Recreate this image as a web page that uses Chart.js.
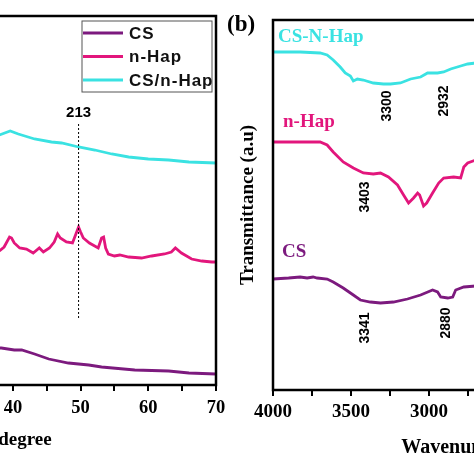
<!DOCTYPE html>
<html>
<head>
<meta charset="utf-8">
<script src="https://cdn.jsdelivr.net/npm/chart.js@4.4.1/dist/chart.umd.min.js"></script>
<style>
  html, body { margin: 0; padding: 0; background: #fff; overflow: hidden; width: 474px; height: 474px; }
  #xrdChart { position: absolute; left: -260px; top: 0; }
  #ftirChart { position: absolute; left: 200px; top: 0; }
</style>
</head>
<body>
<canvas id="xrdChart" width="500" height="474"></canvas>
<canvas id="ftirChart" width="600" height="474"></canvas>
<script>
// (a) XRD, 2theta in degrees, intensity a.u.
const xrdCsX = [38.0, 38.3, 40.2, 41.3, 43.2, 45.3, 48.2, 51.2, 53.1, 58, 63, 66, 70];
const xrdCsY = [37, 37, 35, 35, 31, 26, 22, 20, 18, 15, 14, 12, 11];
const xrdHapX = [38.0, 38.7, 39.5, 39.8, 40.2, 41.0, 42.0, 43.0, 43.9, 44.5, 45.4, 46.1, 46.6, 47.0, 47.9, 48.8, 49.25, 49.7, 50.0, 50.4, 51.3, 52.6, 53.1, 53.4, 53.7, 54.1, 55.0, 55.8, 57.1, 59.0, 60.5, 62.4, 63.4, 64.0, 64.9, 66.4, 67.9, 69.4, 70];
const xrdHapY = [134, 138, 148, 147, 142, 137, 136, 132, 137, 133, 137, 143, 151, 147, 143, 142, 150, 158, 153, 147, 142, 137, 147, 148, 137, 131, 129, 130, 128, 127, 129, 131, 133, 137, 132, 126, 124, 123, 123];
const xrdMixX = [38.0, 39.6, 40.8, 43.2, 45.7, 47.2, 49.7, 52.1, 54.6, 57.1, 60.0, 63, 66, 70];
const xrdMixY = [250, 254, 251, 246, 243, 242, 238, 235, 231, 228, 226, 225, 223, 222];
const xrdNames = ['CS', 'n-Hap', 'CS/n-Hap'];
const xrdPeak = 49.7, xrdPeakText = '213';

// (b) FTIR, wavenumber cm-1, transmittance a.u.
const irMixX = [4000, 3826, 3698, 3653, 3614, 3569, 3537, 3504, 3485, 3459, 3421, 3357, 3292, 3247, 3183, 3118, 3054, 3009, 2945, 2906, 2861, 2797, 2752, 2700];
const irMixY = [338, 338, 337, 335, 330, 323, 317, 314, 309, 311, 310, 307, 306, 306, 307, 311, 313, 317, 317, 318, 321, 324, 326, 327];
const irHapX = [4000, 3826, 3698, 3653, 3614, 3550, 3485, 3421, 3357, 3311, 3260, 3202, 3163, 3131, 3099, 3073, 3060, 3035, 3015, 2977, 2938, 2906, 2842, 2797, 2777, 2752, 2700];
const irHapY = [248, 248, 248, 245, 238, 228, 222, 217, 216, 217, 213, 205, 195, 187, 192, 197, 195, 184, 187, 197, 207, 212, 213, 212, 223, 227, 230];
const irCsX = [4000, 3900, 3826, 3781, 3743, 3717, 3653, 3614, 3550, 3485, 3440, 3376, 3311, 3228, 3138, 3054, 2977, 2945, 2925, 2880, 2848, 2829, 2777, 2700];
const irCsY = [111, 112, 113, 112, 113, 112, 111, 108, 102, 95, 90, 88, 87, 88, 91, 95, 100, 98, 93, 92, 93, 100, 103, 104];
const irNames = ['CS-N-Hap', 'n-Hap', 'CS'];
const irPeaks = ['3300', '2932', '3403', '3341', '2880'];

const purple = '#7c1a7e', magenta = '#e2167c', cyan = '#3ae2e2';
const serif = '"Liberation Serif", "Times New Roman", serif';
const sans = '"Liberation Sans", Arial, sans-serif';

const pts = (xs, ys) => xs.map((v, i) => ({ x: v, y: ys[i] }));

let frame = function (ctx, a) {
    ctx.strokeStyle = '#000';
    ctx.lineWidth = 2.5;
    ctx.strokeRect(a.left, a.top, a.right - a.left, a.bottom - a.top);
};

const xrdDecor = {
    id: 'xrdDecor',
    afterDraw(chart) {
        const { ctx, chartArea: a, scales: { x, y } } = chart;
        ctx.save();
        frame(ctx, a);
        // dotted marker line for the 213 reflection
        const px = x.getPixelForValue(xrdPeak);
        ctx.lineWidth = 1;
        ctx.setLineDash([2, 2]);
        ctx.beginPath();
        ctx.moveTo(px, y.getPixelForValue(67));
        ctx.lineTo(px, y.getPixelForValue(262));
        ctx.stroke();
        ctx.setLineDash([]);
        ctx.fillStyle = '#000';
        ctx.font = 'bold 15px ' + sans;
        ctx.textAlign = 'center';
        ctx.textBaseline = 'middle';
        ctx.fillText(xrdPeakText, px, y.getPixelForValue(272));
        // boxed legend
        const bx = a.right - 134, by = a.top + 5;
        ctx.lineWidth = 1;
        ctx.strokeStyle = '#555';
        ctx.strokeRect(bx, by, 130, 71);
        ctx.textAlign = 'left';
        ctx.font = 'bold 17px ' + sans;
        ctx.letterSpacing = '1px';
        chart.data.datasets.forEach((ds, i) => {
            const ly = by + 12 + i * 23.5;
            ctx.strokeStyle = ds.borderColor;
            ctx.lineWidth = 3;
            ctx.beginPath();
            ctx.moveTo(bx + 1, ly);
            ctx.lineTo(bx + 41, ly);
            ctx.stroke();
            ctx.fillStyle = '#111';
            ctx.fillText(ds.label, bx + 47, ly + 1);
        });
        ctx.restore();
    }
};

const irDecor = {
    id: 'irDecor',
    afterDraw(chart) {
        const { ctx, chartArea: a, scales: { x, y } } = chart;
        ctx.save();
        frame(ctx, a);
        // band positions, written vertically
        const spots = [[3266, 284], [2900, 289], [3408, 193], [3408, 62], [2887, 67]];
        ctx.fillStyle = '#000';
        ctx.font = 'bold 14px ' + sans;
        ctx.textAlign = 'center';
        ctx.textBaseline = 'middle';
        irPeaks.forEach((t, i) => {
            ctx.save();
            ctx.translate(x.getPixelForValue(spots[i][0]), y.getPixelForValue(spots[i][1]));
            ctx.rotate(-Math.PI / 2);
            ctx.fillText(t, 0, 0);
            ctx.restore();
        });
        // curve names
        const tags = [[3968, 353], [3936, 268], [3942, 138]];
        ctx.font = 'bold 19px ' + serif;
        ctx.textAlign = 'left';
        chart.data.datasets.forEach((ds, i) => {
            ctx.fillStyle = ds.borderColor;
            ctx.fillText(ds.label, x.getPixelForValue(tags[i][0]), y.getPixelForValue(tags[i][1]));
        });
        ctx.fillStyle = '#000';
        ctx.font = 'bold 23px ' + serif;
        ctx.fillText('(b)', a.left - 46, 25);
        ctx.restore();
    }
};

let xrdChart = new Chart(document.getElementById('xrdChart'), {
    type: 'line',
    data: {
        datasets: [
            { label: xrdNames[0], data: pts(xrdCsX, xrdCsY), borderColor: purple },
            { label: xrdNames[1], data: pts(xrdHapX, xrdHapY), borderColor: magenta },
            { label: xrdNames[2], data: pts(xrdMixX, xrdMixY), borderColor: cyan }
        ]
    },
    options: {
        responsive: false,
        animation: false,
        layout: { padding: { left: 69.8, right: 24, top: 16, bottom: 0 } },
        elements: { point: { radius: 0 }, line: { borderWidth: 2.8, tension: 0 } },
        plugins: { legend: { display: false }, tooltip: { enabled: false } },
        scales: {
            x: {
                type: 'linear', min: 10, max: 70,
                afterFit: s => { s.height = 89; },
                border: { display: false },
                grid: { drawOnChartArea: false, tickLength: 6, color: '#000', lineWidth: 2 },
                ticks: {
                    stepSize: 5, autoSkip: false, maxRotation: 0, padding: 6, color: '#000',
                    font: { family: serif, size: 18.5, weight: 'bold' },
                    callback: v => v % 10 === 0 ? v : ''
                },
                title: {
                    display: true, text: '2θ degree', color: '#000',
                    font: { family: serif, size: 19, weight: 'bold' },
                    padding: { top: 0, bottom: 23 }
                }
            },
            y: { display: false, min: 0, max: 369 }
        }
    },
    plugins: [xrdDecor]
});

let irChart = new Chart(document.getElementById('ftirChart'), {
    type: 'line',
    data: {
        datasets: [
            { label: irNames[0], data: pts(irMixX, irMixY), borderColor: cyan },
            { label: irNames[1], data: pts(irHapX, irHapY), borderColor: magenta },
            { label: irNames[2], data: pts(irCsX, irCsY), borderColor: purple }
        ]
    },
    options: {
        responsive: false,
        animation: false,
        layout: { padding: { left: 0, right: 98, top: 20, bottom: 0 } },
        elements: { point: { radius: 0 }, line: { borderWidth: 2.8, tension: 0 } },
        plugins: { legend: { display: false }, tooltip: { enabled: false } },
        scales: {
            x: {
                type: 'linear', min: 1250, max: 4000, reverse: true,
                afterFit: s => { s.height = 84; },
                border: { display: false },
                grid: { drawOnChartArea: false, tickLength: 6, color: '#000', lineWidth: 2 },
                ticks: {
                    stepSize: 250, autoSkip: false, maxRotation: 0, padding: 5, color: '#000',
                    font: { family: serif, size: 19, weight: 'bold' },
                    callback: v => v % 500 === 0 ? v : ''
                },
                title: {
                    display: true, text: 'Wavenumber (cm⁻¹)', color: '#000',
                    font: { family: serif, size: 20, weight: 'bold' },
                    padding: { top: 0, bottom: 14 }
                }
            },
            y: {
                min: 0, max: 370,
                afterFit: s => { s.width = 73; },
                border: { display: false },
                grid: { display: false },
                ticks: { display: false },
                title: {
                    display: true, text: 'Transmittance (a.u)', color: '#000',
                    font: { family: serif, size: 19, weight: 'bold' },
                    padding: { top: 37, bottom: 0 }
                }
            }
        }
    },
    plugins: [irDecor]
});
</script>
</body>
</html>
